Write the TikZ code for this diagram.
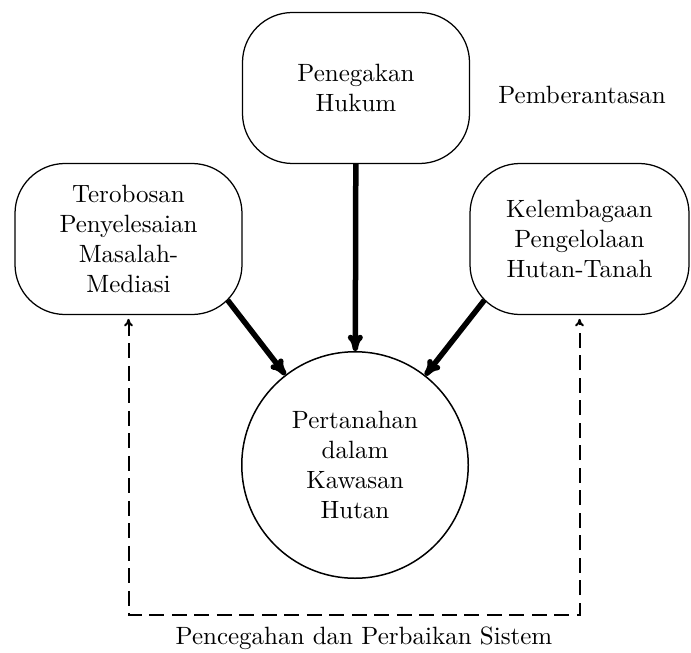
\documentclass[tikz,border=0pt]{standalone}
\usetikzlibrary{arrows.meta}
\begin{document}
\begin{tikzpicture}[x=0.4pt, y=-0.4pt,
    kotak/.style={draw, rounded corners=20pt, minimum width=90.8pt, minimum height=60.4pt, align=center, line width=0.5pt},
    pusat/.style={draw, circle, minimum size=90.6pt, inner sep=0pt, align=center, line width=0.6pt},
    panah/.style={-{To[length=6.5pt, width=6pt]}, line width=2.2pt},
    balik/.style={{To[length=3pt, width=3.5pt]}-{To[length=3pt, width=3.5pt]}, dash pattern=on 6pt off 3pt, line width=0.8pt, shorten <=1.5pt, shorten >=1.5pt}]
    \useasboundingbox (0,0) rectangle (691,652);

    % Top: law enforcement
    \node[kotak] (hukum) at (356,88) {Penegakan\\Hukum};
    \node (berantas) at (582,95) {Pemberantasan};

    % Left and right boxes
    \node[kotak] (mediasi) at (128.5,239) {Terobosan\\Penyelesaian\\Masalah-\\Mediasi};
    \node[kotak, minimum width=87.6pt] (lembaga) at (579.5,239) {Kelembagaan\\Pengelolaan\\Hutan-Tanah};

    % Centre circle
    \node[pusat] (tanah) at (355,465) {Pertanahan\\dalam\\Kawasan\\Hutan};

    % Thick arrows into the circle
    \draw[panah] (hukum) -- (tanah);
    \draw[panah] ([shift={(-15,-15)}]mediasi.south east) -- (tanah);
    \draw[panah] ([shift={(15,-15)}]lembaga.south west) -- (tanah);

    % Dashed loop below
    \coordinate (bawah) at (355,615);
    \draw[balik] (mediasi.south) |- (bawah) -| (lembaga.south);
    \node (cegah) at (364,638) {Pencegahan dan Perbaikan Sistem};
\end{tikzpicture}
\end{document}
